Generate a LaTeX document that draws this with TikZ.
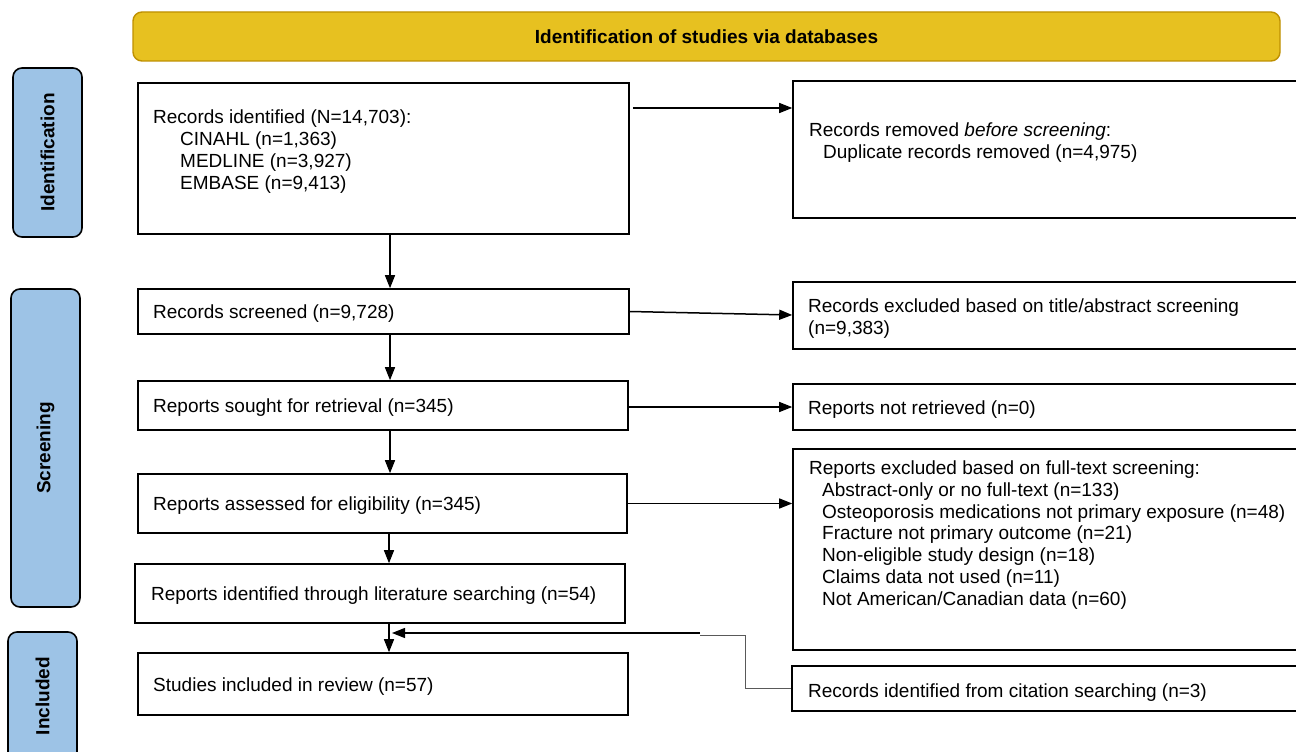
\documentclass[tikz,border=0pt]{standalone}
\usepackage{fontspec}
\setmainfont{Liberation Sans}
\usetikzlibrary{arrows.meta}
\definecolor{sideblue}{RGB}{157,195,230}
\definecolor{bannerfill}{RGB}{231,193,32}
\definecolor{bannerdraw}{RGB}{191,144,0}
\begin{document}
\begin{tikzpicture}[x=1pt,y=-1pt,
  every node/.style={font=\fontsize{19}{22}\selectfont},
  box/.style={draw=black, line width=1.6pt, inner sep=0pt, fill=white},
  side/.style={draw=black, line width=1.6pt, rounded corners=9pt, fill=sideblue, inner sep=0pt},
  banner/.style={draw=bannerdraw, line width=1.4pt, rounded corners=9pt, fill=bannerfill, inner sep=0pt},
  lbl/.style={rotate=90, inner sep=0pt, font=\bfseries\fontsize{19}{22}\selectfont},
  txt/.style={align=left, inner sep=0pt, anchor=base west},
  arr/.style={line width=1.5pt, -{Triangle[length=13pt,width=10pt]}},
  thinline/.style={line width=1pt, draw=black!65},
]
\clip (0,0) rectangle (1296,752);
\fill[white] (0,0) rectangle (1296,752);

% banner
\node[banner, minimum width=1147pt, minimum height=49pt] (ban) at (706.5,36.5) {};
\node[inner sep=0pt, font=\bfseries\fontsize{19}{22}\selectfont] (bantxt) at (ban.center) {Identification of studies via databases};

% side labels
\node[side, minimum width=69pt, minimum height=169pt] (sid) at (47.5,152.5) {};
\node[lbl] (sidtxt) at (sid.center) {Identification};
\node[side, minimum width=69pt, minimum height=318pt] (sscr) at (45.5,448) {};
\node[lbl] (sscrtxt) at (sscr.center) {Screening};
\node[side, minimum width=69pt, minimum height=140pt] (sinc) at (42.5,702) {};
\node[lbl] (sinctxt) at (42.5,696) {Included};

% left boxes
\node[box, minimum width=491pt, minimum height=151pt] (b1) at (383.5,158.5) {};
\node[box, minimum width=491pt, minimum height=45pt] (b2) at (383.5,311.5) {};
\node[box, minimum width=490pt, minimum height=49pt] (b3) at (383,405.5) {};
\node[box, minimum width=489pt, minimum height=59pt] (b4) at (382.5,503.5) {};
\node[box, minimum width=490pt, minimum height=59pt] (b5) at (380,593.5) {};
\node[box, minimum width=490pt, minimum height=62pt] (b6) at (383,684) {};

% right boxes
\node[box, minimum width=512pt, minimum height=137pt] (r1) at (1049,149.5) {};
\node[box, minimum width=512pt, minimum height=67pt] (r2) at (1049,315.5) {};
\node[box, minimum width=512pt, minimum height=46pt] (r3) at (1049,407) {};
\node[box, minimum width=512pt, minimum height=201pt] (r4) at (1049,549.5) {};
\node[box, minimum width=513pt, minimum height=45pt] (r5) at (1048.5,688.5) {};

% texts (multi-line nodes: base = baseline of last line)
\node[txt] (t1) at (153,189) {Records identified (N=14,703):\\\hspace*{27pt}CINAHL (n=1,363)\\\hspace*{27pt}MEDLINE (n=3,927)\\\hspace*{27pt}EMBASE (n=9,413)};
\node[txt] (t2) at (153,318) {Records screened (n=9,728)};
\node[txt] (t3) at (153,412) {Reports sought for retrieval (n=345)};
\node[txt] (t4) at (153,510) {Reports assessed for eligibility (n=345)};
\node[txt] (t5) at (151,600) {Reports identified through literature searching (n=54)};
\node[txt] (t6) at (153,691) {Studies included in review (n=57)};

\node[txt] (u1) at (809,158) {Records removed \textit{before screening}:\\\hspace*{14pt}Duplicate records removed (n=4,975)};
\node[txt] (u2) at (808,334) {Records excluded based on title/abstract screening\\(n=9,383)};
\node[txt] (u3) at (808,414) {Reports not retrieved (n=0)};
\node[txt, font=\fontsize{19}{21.7}\selectfont] (u4) at (809,605) {Reports excluded based on full-text screening:\\
\hspace*{13pt}Abstract-only or no full-text (n=133)\\
\hspace*{13pt}Osteoporosis medications not primary exposure (n=48)\\
\hspace*{13pt}Fracture not primary outcome (n=21)\\
\hspace*{13pt}Non-eligible study design (n=18)\\
\hspace*{13pt}Claims data not used (n=11)\\
\hspace*{13pt}Not American/Canadian data (n=60)};
\node[txt] (u5) at (808,697) {Records identified from citation searching (n=3)};

% connectors
\coordinate (spine) at (390,0);
\coordinate (spineb) at (389,0);
\coordinate (join) at (392,633);
\coordinate (bend) at (745,0);
\coordinate (kink) at (700,635);
\coordinate (kinkb) at (700,633);
\coordinate (y1) at (0,108);

\draw[arr] (b1.south -| spine) -- (b2.north -| spine);
\draw[arr] (b2.south -| spine) -- (b3.north -| spine);
\draw[arr] (b3.south -| spine) -- (b4.north -| spine);
\draw[arr] (b4.south -| spineb) -- (b5.north -| spineb);
\draw[arr] (b5.south -| spineb) -- (b6.north -| spineb);

\draw[arr] ([xshift=3pt]b1.east |- y1) -- (r1.west |- y1);
\draw[arr] (b2.east) -- (r2.west |- 0,315);
\draw[arr] (b3.east |- r3.west) -- (r3.west);
\draw[arr] (b4.east) -- (r4.west |- b4.east);
\draw[thinline] (r5.west) -- (r5.west -| bend) |- (kink);
\draw[arr, line width=1.3pt] (kinkb) -- (join);
\end{tikzpicture}
\end{document}
